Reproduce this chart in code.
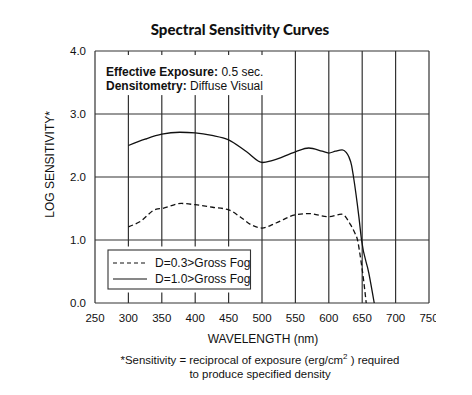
<!DOCTYPE html>
<html>
<head>
<meta charset="utf-8">
<script src="https://cdn.jsdelivr.net/npm/d3@7"></script>
<style>
  body { margin: 0; background: #fff; }
  text { font-family: "Liberation Sans", Arial, sans-serif; fill: #111; }
</style>
</head>
<body>
<div id="chart"></div>
<script>
// SPECTRAL SENSITIVITY

// data
let xTicks = [250, 300, 350, 400, 450, 500, 550, 600, 650, 700, 750];
let yTicks = [0, 1, 2, 3, 4];

let solidWave = [300, 325, 350, 377, 400, 425, 450, 477, 501, 515, 550, 570, 590, 600, 610, 620, 626, 630, 634, 637, 645, 649, 660, 668];
let solidLog = [2.50, 2.60, 2.68, 2.71, 2.70, 2.66, 2.59, 2.40, 2.23, 2.26, 2.40, 2.46, 2.41, 2.38, 2.41, 2.43, 2.39, 2.32, 2.19, 2.0, 1.37, 1.0, 0.47, 0];

let dashWave = [300, 317, 342, 350, 379, 400, 426, 450, 467, 484, 500, 521, 550, 570, 600, 619, 625, 631, 639, 643, 647, 652, 656];
let dashLog = [1.21, 1.29, 1.49, 1.50, 1.58, 1.56, 1.52, 1.48, 1.37, 1.24, 1.19, 1.27, 1.40, 1.42, 1.37, 1.41, 1.37, 1.27, 1.11, 1.0, 0.75, 0.37, 0];

let legendLabels = ['D=0.3>Gross Fog', 'D=1.0>Gross Fog'];

let width = 472,
  height = 395,
  margin = { top: 51, bottom: 92, left: 95, right: 43 };

let svg = d3
  .select('#chart')
  .append('svg')
  .attr('width', width)
  .attr('height', height);

let xScale = d3
  .scaleLinear()
  .domain([250, 750])
  .range([margin.left, width - margin.right]);

let yScale = d3
  .scaleLinear()
  .domain([0, 4])
  .range([height - margin.bottom, margin.top]);

let gridColor = '#333';

// title
svg
  .append('text')
  .attr('x', 240)
  .attr('y', 35)
  .attr('text-anchor', 'middle')
  .style('font-family', 'Lato')
  .style('font-weight', 900)
  .style('font-size', '15px')
  .text('Spectral Sensitivity Curves');

// grid lines
svg
  .append('g')
  .selectAll('line')
  .data(xTicks)
  .join('line')
  .attr('x1', d => xScale(d))
  .attr('x2', d => xScale(d))
  .attr('y1', yScale(0))
  .attr('y2', yScale(4))
  .attr('stroke', gridColor)
  .attr('stroke-width', 1.2);

svg
  .append('g')
  .selectAll('line')
  .data(yTicks)
  .join('line')
  .attr('x1', xScale(250))
  .attr('x2', xScale(750))
  .attr('y1', d => yScale(d))
  .attr('y2', d => yScale(d))
  .attr('stroke', gridColor)
  .attr('stroke-width', 1.2);

// white panel behind the note
svg
  .append('rect')
  .attr('x', xScale(250) + 1.5)
  .attr('y', yScale(4) + 4)
  .attr('width', xScale(505) - xScale(250))
  .attr('height', yScale(3.3) - yScale(4) - 4)
  .attr('fill', '#fff');

let note = svg
  .append('text')
  .attr('x', 106)
  .attr('y', 76)
  .style('font-size', '12px');
note.append('tspan').style('font-weight', 'bold').text('Effective Exposure:');
note.append('tspan').text(' 0.5 sec.');

let note2 = svg
  .append('text')
  .attr('x', 106)
  .attr('y', 90)
  .style('font-size', '12px');
note2.append('tspan').style('font-weight', 'bold').text('Densitometry:');
note2.append('tspan').text(' Diffuse Visual');

// curves
let line = d3
  .line()
  .x(d => xScale(d[0]))
  .y(d => yScale(d[1]))
  .curve(d3.curveMonotoneX);

svg
  .append('path')
  .datum(solidWave.map((w, i) => [w, solidLog[i]]))
  .attr('d', line)
  .attr('fill', 'none')
  .attr('stroke', '#111')
  .attr('stroke-width', 1.3);

svg
  .append('path')
  .datum(dashWave.map((w, i) => [w, dashLog[i]]))
  .attr('d', line)
  .attr('fill', 'none')
  .attr('stroke', '#111')
  .attr('stroke-width', 1.3)
  .attr('stroke-dasharray', '5,3');

// legend
svg
  .append('rect')
  .attr('x', 104)
  .attr('y', 246.5)
  .attr('width', 151)
  .attr('height', 46)
  .attr('fill', '#fff');

svg
  .append('rect')
  .attr('x', 108)
  .attr('y', 250)
  .attr('width', 142.5)
  .attr('height', 39)
  .attr('fill', 'none')
  .attr('stroke', gridColor)
  .attr('stroke-width', 1.1);

let legend = svg
  .append('g')
  .selectAll('g')
  .data(legendLabels)
  .join('g')
  .attr('transform', (d, i) => `translate(113,${263 + i * 16})`);

legend
  .append('line')
  .attr('x1', 0)
  .attr('x2', 34)
  .attr('stroke', '#111')
  .attr('stroke-width', 1.2)
  .attr('stroke-dasharray', (d, i) => (i === 0 ? '4,3' : null));

legend
  .append('text')
  .attr('x', 42)
  .attr('y', 4)
  .style('font-size', '12px')
  .text(d => d);

// tick labels
svg
  .append('g')
  .selectAll('text')
  .data(yTicks)
  .join('text')
  .attr('x', margin.left - 9)
  .attr('y', d => yScale(d) + 4)
  .attr('text-anchor', 'end')
  .style('font-size', '11.5px')
  .text(d => d3.format('.1f')(d));

// the last x label is cut off in the original
svg
  .append('clipPath')
  .attr('id', 'xclip')
  .append('rect')
  .attr('x', 0)
  .attr('y', 0)
  .attr('width', xScale(750) + 7)
  .attr('height', height);

svg
  .append('g')
  .attr('clip-path', 'url(#xclip)')
  .selectAll('text')
  .data(xTicks)
  .join('text')
  .attr('x', d => xScale(d))
  .attr('y', yScale(0) + 19)
  .attr('text-anchor', 'middle')
  .style('font-size', '11.5px')
  .text(d => d);

// axis titles
svg
  .append('text')
  .attr('transform', `translate(54,${yScale(2.2)}) rotate(-90)`)
  .attr('text-anchor', 'middle')
  .style('font-size', '12px')
  .text('LOG SENSITIVITY*');

svg
  .append('text')
  .attr('x', 263)
  .attr('y', 343)
  .attr('text-anchor', 'middle')
  .style('font-size', '12px')
  .text('WAVELENGTH (nm)');

// footnote
let foot = svg
  .append('text')
  .attr('x', 260)
  .attr('y', 364)
  .attr('text-anchor', 'middle')
  .style('font-size', '11.4px');
foot.append('tspan').text('*Sensitivity = reciprocal of exposure (erg/cm');
foot.append('tspan').attr('dy', -5).style('font-size', '8px').text('2');
foot.append('tspan').attr('dy', 5).text(' ) required');

svg
  .append('text')
  .attr('x', 260)
  .attr('y', 378)
  .attr('text-anchor', 'middle')
  .style('font-size', '11.4px')
  .text('to produce specified density');
</script>
</body>
</html>
